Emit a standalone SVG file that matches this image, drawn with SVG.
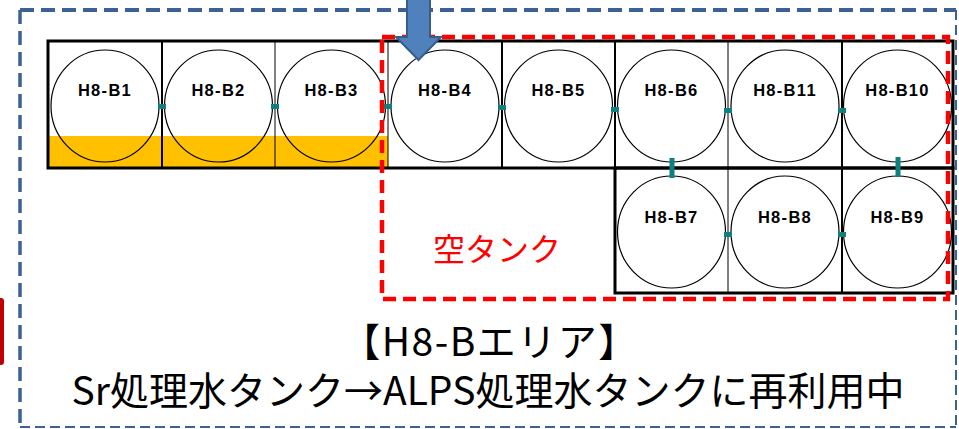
<svg xmlns="http://www.w3.org/2000/svg" width="959" height="429" viewBox="0 0 959 429">
<style>
.tank{fill:none;stroke:#000;stroke-width:1.2}
.lbl{font-family:"Liberation Sans",Arial,sans-serif;font-weight:bold;font-size:16.5px;letter-spacing:1.3px;text-anchor:middle;fill:#000}
.cell{fill:none;stroke:#000}
.conn{fill:#0E8080}
.big{font-family:"Noto Sans CJK JP","Noto Sans",sans-serif;text-anchor:middle;fill:#000}
</style>
<rect width="959" height="429" fill="#fff"/>
<!-- outer blue dashed area -->
<g id="area" fill="none" stroke="#3C6295">
<path d="M20 10H956" stroke-width="4" stroke-dasharray="14 7"/>
<path d="M20 10V427" stroke-width="3.5" stroke-dasharray="14 7"/>
<path d="M20 427H956" stroke-width="2" stroke-dasharray="10 5"/>
<path d="M956 10V427" stroke-width="2" stroke-dasharray="10 5"/>
</g>
<rect x="-4" y="298" width="8" height="67" rx="3" fill="#C00000"/>
<!-- yellow water level -->
<rect x="48" y="136" width="340" height="32" fill="#FFC000"/>
<!-- grid -->
<g id="grid">
<rect x="48" y="41" width="905" height="127" class="cell" stroke-width="3"/>
<rect x="615" y="168" width="338" height="125" class="cell" stroke-width="3"/>
<path d="M162 41V168M502 41V168M615 41V168M842 41V293" class="cell" stroke-width="2"/>
<path d="M275 41V168M388 41V168M728 41V293" class="cell" stroke-width="1"/>
</g>
<g id="H8-B1"><ellipse cx="105" cy="106" rx="54" ry="56" class="tank"/><text x="105" y="96" class="lbl">H8-B1</text></g>
<g id="H8-B2"><ellipse cx="218.5" cy="106" rx="54" ry="56" class="tank"/><text x="218.5" y="96" class="lbl">H8-B2</text></g>
<g id="H8-B3"><ellipse cx="331.5" cy="106" rx="54" ry="56" class="tank"/><text x="331.5" y="96" class="lbl">H8-B3</text></g>
<g id="H8-B4"><ellipse cx="445" cy="106" rx="54" ry="56" class="tank"/><text x="445" y="96" class="lbl">H8-B4</text></g>
<g id="H8-B5"><ellipse cx="558.5" cy="106" rx="54" ry="56" class="tank"/><text x="558.5" y="96" class="lbl">H8-B5</text></g>
<g id="H8-B6"><ellipse cx="671.5" cy="106" rx="54" ry="56" class="tank"/><text x="671.5" y="96" class="lbl">H8-B6</text></g>
<g id="H8-B11"><ellipse cx="785" cy="106" rx="54" ry="56" class="tank"/><text x="785" y="96" class="lbl">H8-B11</text></g>
<g id="H8-B10"><ellipse cx="897.5" cy="106" rx="54" ry="56" class="tank"/><text x="897.5" y="96" class="lbl">H8-B10</text></g>
<g id="H8-B7"><ellipse cx="671.5" cy="232" rx="54" ry="56" class="tank"/><text x="671.5" y="223" class="lbl">H8-B7</text></g>
<g id="H8-B8"><ellipse cx="785" cy="232" rx="54" ry="56" class="tank"/><text x="785" y="223" class="lbl">H8-B8</text></g>
<g id="H8-B9"><ellipse cx="897.5" cy="232" rx="54" ry="56" class="tank"/><text x="897.5" y="223" class="lbl">H8-B9</text></g>
<!-- connectors -->
<g id="connectors">
<rect x="158" y="104" width="8" height="5" class="conn"/>
<rect x="271" y="104" width="8" height="5" class="conn"/>
<rect x="384" y="104" width="8" height="5" class="conn"/>
<rect x="498" y="105" width="8" height="5" class="conn"/>
<rect x="611" y="107" width="8" height="5" class="conn"/>
<rect x="724" y="108" width="8" height="5" class="conn"/>
<rect x="838" y="108" width="8" height="5" class="conn"/>
<rect x="669.5" y="158" width="5" height="20" class="conn"/>
<rect x="895.5" y="157" width="5" height="20" class="conn"/>
<rect x="724" y="232" width="8" height="5" class="conn"/>
<rect x="838" y="232" width="8" height="5" class="conn"/>
</g>
<!-- empty tank zone -->
<g id="empty-zone">
<rect x="382" y="37" width="566" height="262" fill="none" stroke="#FF0000" stroke-width="4.5" stroke-dasharray="13 7"/>
<text x="497" y="261" font-family="'Noto Sans CJK JP',sans-serif" font-size="32" fill="#FF0000" text-anchor="middle">空タンク</text>
</g>
<!-- arrow -->
<g id="arrow">
<path d="M407 -2H430V37H441L418.5 60L396 37H407Z" fill="#4F81BD" stroke="#385D8A" stroke-width="2"/>
</g>
<g id="title">
<text x="490" y="356" class="big" font-size="39" letter-spacing="1.5">【H8-Bエリア】</text>
<text x="488" y="405" class="big" font-size="39">Sr処理水タンク→ALPS処理水タンクに再利用中</text>
</g>
</svg>
